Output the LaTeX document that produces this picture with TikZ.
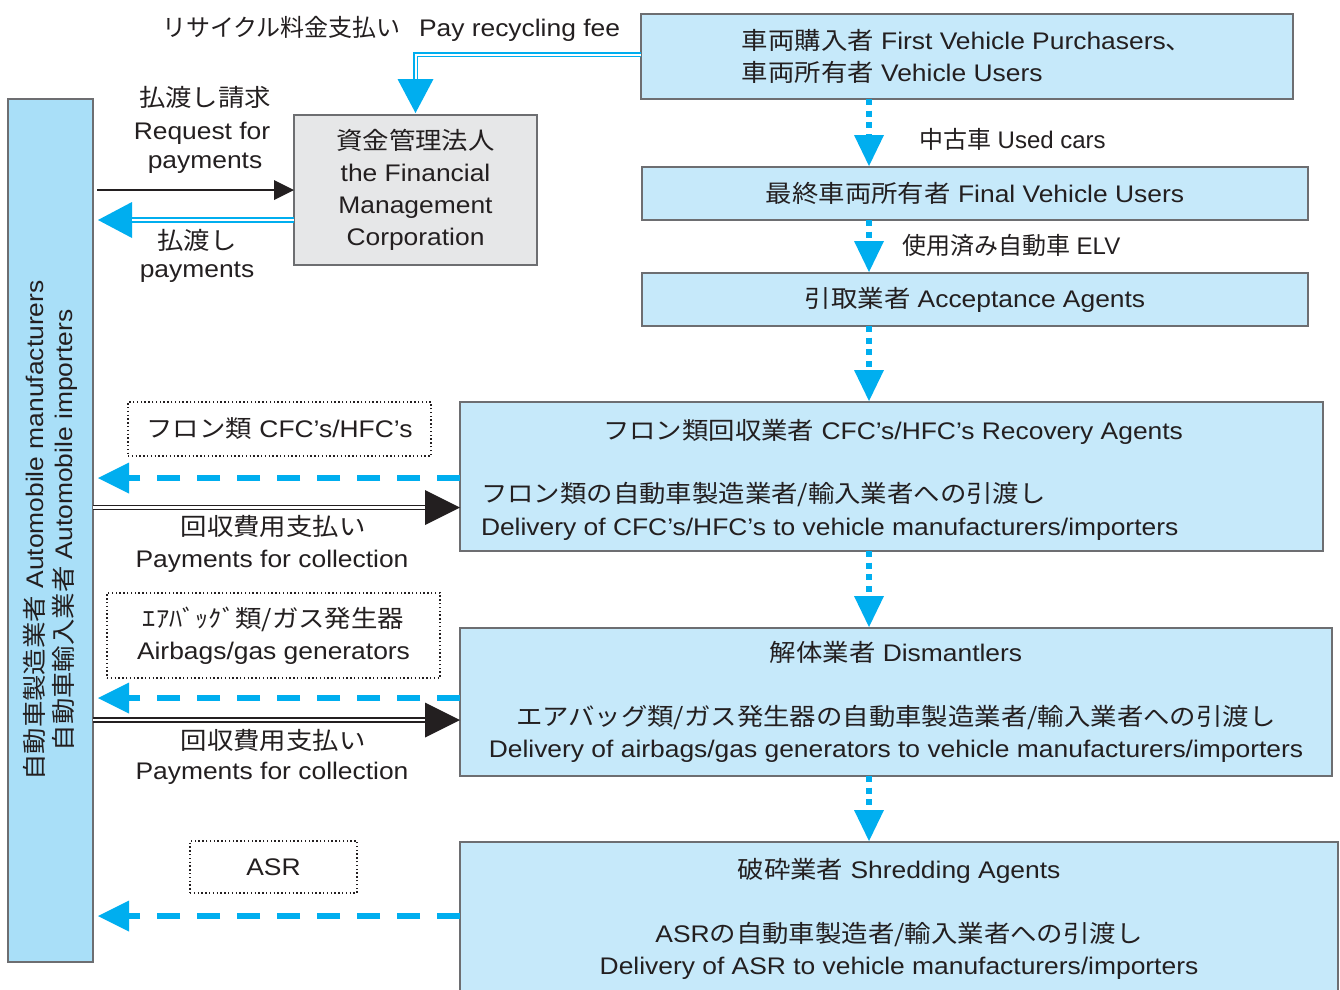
\documentclass[tikz,border=0pt]{standalone}
\usepackage{fontspec}
\setmainfont{Liberation Sans}[FakeStretch=1.1]
\newfontfamily\jafont{Noto Sans CJK JP}[FakeStretch=1.1]
\newfontfamily\janarrow{Noto Sans CJK JP}
\newfontfamily\lanarrow{Liberation Sans}
\newcommand\ja[1]{{\jafont #1}}
\newcommand\jn[1]{{\janarrow #1}}
\usetikzlibrary{arrows.meta}
\definecolor{inkc}{HTML}{231F20}
\definecolor{flow}{HTML}{00AEEF}
\definecolor{boxfill}{HTML}{C6E9FA}
\definecolor{makerfill}{HTML}{A9DFF8}
\definecolor{edge}{HTML}{6D6E71}
\definecolor{fundfill}{HTML}{E6E7E8}
\begin{document}
\begin{tikzpicture}[x=1pt, y=-1pt,
  every node/.style={text=inkc, font=\fontsize{24}{32}\selectfont, inner sep=0pt, outer sep=0pt},
  stage/.style={draw=edge, line width=1.2pt, fill=boxfill, anchor=north west},
  fund/.style={draw=edge, line width=1.2pt, fill=fundfill, anchor=north west, align=center},
  makerbox/.style={draw=edge, line width=1.2pt, fill=makerfill, anchor=north west},
  notebox/.style={draw=inkc, line width=1.3pt, dash pattern=on 1.4pt off 2.4pt, anchor=north west, align=center},
  lbl/.style={anchor=base},
  lblw/.style={anchor=base west},
  narrowlbl/.style={anchor=base west, font=\fontsize{24}{32}\selectfont\lanarrow},
  cyanpipe/.style={draw=flow, double=white, line width=1.6pt, double distance=2pt},
  cyanhead/.style={draw=flow, line width=0.5pt, -{Triangle[length=34pt,width=36pt,line width=0pt]}},
  blackpipe/.style={draw=inkc, double=white, line width=1.5pt, double distance=2.5pt},
  blackhead/.style={draw=inkc, line width=0.5pt, -{Triangle[length=35pt,width=35pt,line width=0pt]}},
  req/.style={draw=inkc, line width=1.5pt, -{Triangle[length=20pt,width=20pt,line width=0pt]}},
  drop/.style={draw=flow, line width=6pt, dash pattern=on 23pt off 17pt, -{Triangle[length=31pt,width=31pt,line width=0pt]}},
  flowdown/.style={draw=flow, line width=6pt, dash pattern=on 6pt off 5.7pt, shorten >=1pt, -{Triangle[length=31pt,width=30pt,line width=0pt]}}
]
\useasboundingbox (0,0) rectangle (1340,989);
\clip (0,0) rectangle (1340,989);
\fill[white] (0,0) rectangle (1340,989);

% ---- chain of vehicle handling stages
\node[stage, minimum width=652pt, minimum height=85pt, align=left] (buyer) at (641,14)
  {\ja{車両購入者} First Vehicle Purchasers\ja{、}\\\ja{車両所有者} Vehicle Users};
\node[stage, minimum width=666pt, minimum height=53pt] (final) at (642,167)
  {\ja{最終車両所有者} Final Vehicle Users};
\node[stage, minimum width=666pt, minimum height=53pt] (accept) at (642,273)
  {\ja{引取業者} Acceptance Agents};
\node[stage, minimum width=863pt, minimum height=149pt] (cfc) at (460,402) {};
\node[stage, minimum width=872pt, minimum height=148pt, align=center] (dis) at (460,628)
  {\ja{解体業者} Dismantlers\\[32pt]\ja{エアバッグ類/ガス発生器の自動車製造業者/輸入業者への引渡し}\\Delivery of airbags/gas generators to vehicle manufacturers/importers};
\node[stage, minimum width=878pt, minimum height=153pt, align=center] (shred) at (460,842)
  {\ja{破砕業者} Shredding Agents\\[32pt]ASR\ja{の自動車製造者/輸入業者への引渡し}\\Delivery of ASR to vehicle manufacturers/importers};

\node[lbl] (cfctitle) at (893,439.5) {\ja{フロン類回収業者} CFC’s/HFC’s Recovery Agents};
\node[lblw] (cfcline1) at (481,502.5) {\ja{フロン類の自動車製造業者/輸入業者への引渡し}};
\node[lblw] (cfcline2) at (481,535.5) {Delivery of CFC’s/HFC’s to vehicle manufacturers/importers};

% ---- fund manager and makers
\node[fund, minimum width=243pt, minimum height=150pt] (fmc) at (294,115)
  {\ja{資金管理法人}\\the Financial\\Management\\Corporation};
\node[makerbox, minimum width=85pt, minimum height=863pt] (maker) at (8,99) {};
\node[rotate=90, align=center, font=\fontsize{24}{29}\selectfont] (makertext) at (maker.center)
  {\ja{自動車製造業者} Automobile manufacturers\\\ja{自動車輸入業者} Automobile importers};

% ---- items handed back to the makers
\node[notebox, minimum width=303pt, minimum height=54pt] (cfcnote) at (128,402) {\ja{フロン類} CFC’s/HFC’s};
\node[notebox, minimum width=333pt, minimum height=85pt] (bagnote) at (107,593)
  {\ja{ｴｱﾊﾞｯｸﾞ類/ガス発生器}\\Airbags/gas generators};
\node[notebox, minimum width=167pt, minimum height=52pt] (asrnote) at (190,841) {ASR};

% ---- labels
\node[lblw] (feeja) at (162,36.5) {\jn{リサイクル料金支払い}};
\node[lblw] (feeen) at (419,36.5) {Pay recycling fee};
\node[lbl] (reqja) at (205,106) {\ja{払渡し請求}};
\node[lbl] (reqen1) at (202,139.5) {Request for};
\node[lbl] (reqen2) at (205,168) {payments};
\node[lbl] (payja) at (197,249) {\ja{払渡し}};
\node[lbl] (payen) at (197,277) {payments};
\node[lbl] (colja1) at (273,535) {\ja{回収費用支払い}};
\node[lbl] (colen1) at (272,567) {Payments for collection};
\node[lbl] (colja2) at (273,749.5) {\ja{回収費用支払い}};
\node[lbl] (colen2) at (272,779) {Payments for collection};
\node[narrowlbl] (usedlbl) at (919,148) {\jn{中古車} Used cars};
\node[narrowlbl] (elvlbl) at (902,254) {\jn{使用済み自動車} ELV};

% ---- flow of the vehicle
\coordinate (fx) at (869,0);
\draw[flowdown] (buyer.south -| fx) -- (final.north -| fx);
\draw[flowdown] (final.south -| fx) -- (accept.north -| fx);
\draw[flowdown] (accept.south -| fx) -- (cfc.north -| fx);
\draw[flowdown] (cfc.south -| fx) -- (dis.north -| fx);
\draw[flowdown] (dis.south -| fx) -- (shred.north -| fx);

% ---- recycling fee and payments through the fund
\coordinate (feeout) at ([yshift=2pt]buyer.west);
\draw[cyanhead, shorten >=2pt] (feeout) -| (fmc.north);
\draw[cyanpipe, shorten >=36pt] (feeout) -| (fmc.north);

\draw[req, shorten <=4pt] (fmc.west -| maker.east) -- (fmc.west);

\coordinate (payout) at ([yshift=-30pt]fmc.west);
\draw[cyanhead, shorten >=5pt] (payout) -- (payout -| maker.east);
\draw[cyanpipe, shorten >=39pt] (payout) -- (payout -| maker.east);

% ---- CFC recovery
\coordinate (cfcdash) at ([yshift=-1.5pt]cfc.west);
\coordinate (cfcpay) at ([yshift=-31pt]cfc.west);
\draw[drop, shorten >=5pt] (cfcdash) -- (cfcdash -| maker.east);
\draw[blackhead] (cfcpay -| maker.east) -- (cfcpay);
\draw[blackpipe, shorten >=35pt] (cfcpay -| maker.east) -- (cfcpay);

% ---- dismantling
\coordinate (disdash) at ([yshift=4pt]dis.west);
\coordinate (dispay) at ([yshift=-18pt]dis.west);
\draw[drop, shorten >=5pt] (disdash) -- (disdash -| maker.east);
\draw[blackhead] (dispay -| maker.east) -- (dispay);
\draw[blackpipe, shorten >=35pt] (dispay -| maker.east) -- (dispay);

% ---- shredding
\coordinate (shreddash) at ([yshift=2.5pt]shred.west);
\draw[drop, shorten >=5pt] (shreddash) -- (shreddash -| maker.east);
\end{tikzpicture}
\end{document}
